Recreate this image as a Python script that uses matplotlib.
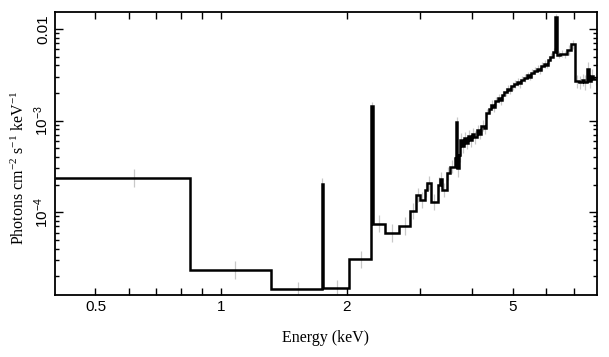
import numpy as np
import matplotlib
matplotlib.use('Agg')
import matplotlib.pyplot as plt
from matplotlib.ticker import FixedLocator, NullFormatter, LogLocator

# unfolded spectrum, bin edges in keV
edges = [0.40, 0.84, 1.316, 1.74, 1.755, 2.025, 2.29, 2.305, 2.47, 2.667,
         2.833, 2.928, 2.993, 3.076, 3.106, 3.18, 3.30, 3.342, 3.373, 3.467,
         3.53, 3.63, 3.66, 3.68, 3.71, 3.74, 3.78, 3.82, 3.86, 3.90,
         3.95, 3.99, 4.04, 4.09, 4.15, 4.20, 4.26, 4.31, 4.37, 4.43,
         4.48, 4.53, 4.60, 4.66, 4.71, 4.77, 4.84, 4.90, 4.96, 5.03,
         5.10, 5.16, 5.23, 5.31, 5.39, 5.46, 5.53, 5.61, 5.70, 5.77,
         5.84, 5.92, 6.01, 6.08, 6.15, 6.22, 6.30, 6.37, 6.50, 6.62,
         6.73, 6.87, 7.04, 7.18, 7.30, 7.40, 7.52, 7.60, 7.68, 7.78,
         8.00]

# photons cm-2 s-1 keV-1
flux = [2.35e-4, 2.35e-5, 1.45e-5, 2.05e-4, 1.5e-5, 3.05e-5, 1.44e-3, 7.5e-5, 5.9e-5, 7.1e-5,
        1.03e-4, 1.54e-4, 1.36e-4, 1.75e-4, 2.09e-4, 1.30e-4, 1.99e-4, 2.29e-4, 1.75e-4, 2.66e-4,
        3.15e-4, 3.9e-4, 9.6e-4, 3.0e-4, 4.2e-4, 6.2e-4, 5.3e-4, 6.4e-4, 5.7e-4, 6.8e-4,
        6.1e-4, 7.2e-4, 6.6e-4, 7.8e-4, 7.2e-4, 8.8e-4, 8.3e-4, 1.2e-3, 1.35e-3, 1.48e-3,
        1.40e-3, 1.62e-3, 1.75e-3, 1.68e-3, 1.90e-3, 2.05e-3, 2.20e-3, 2.15e-3, 2.40e-3, 2.50e-3,
        2.62e-3, 2.55e-3, 2.80e-3, 2.92e-3, 3.12e-3, 3.02e-3, 3.32e-3, 3.50e-3, 3.68e-3, 3.56e-3,
        3.95e-3, 4.15e-3, 4.08e-3, 4.60e-3, 5.00e-3, 5.60e-3, 1.36e-2, 5.25e-3, 5.40e-3, 5.30e-3,
        5.90e-3, 6.80e-3, 2.70e-3, 2.62e-3, 2.78e-3, 2.62e-3, 3.70e-3, 2.70e-3, 3.10e-3, 2.85e-3]

# 1-sigma errors, half width in dex
err_dex = [0.10, 0.10, 0.08, 0.06, 0.08, 0.09, 0.05, 0.09, 0.10, 0.10,
           0.09, 0.08, 0.09, 0.08, 0.08, 0.09, 0.08, 0.08, 0.08, 0.07,
           0.07, 0.07, 0.06, 0.09, 0.08, 0.07, 0.08, 0.07, 0.07, 0.06,
           0.07, 0.06, 0.07, 0.06, 0.06, 0.06, 0.06, 0.05, 0.05, 0.05,
           0.05, 0.05, 0.05, 0.05, 0.05, 0.045, 0.045, 0.045, 0.045, 0.045,
           0.045, 0.045, 0.04, 0.04, 0.04, 0.04, 0.04, 0.04, 0.04, 0.04,
           0.04, 0.04, 0.04, 0.04, 0.04, 0.04, 0.03, 0.04, 0.04, 0.04,
           0.05, 0.05, 0.07, 0.07, 0.07, 0.08, 0.07, 0.08, 0.07, 0.07]

x_major = [0.5, 1, 2, 5]
x_major_labels = ['0.5', '1', '2', '5']
x_minor = [0.6, 0.7, 0.8, 0.9, 3, 4, 6, 7]
y_major = [1e-4, 1e-3, 1e-2]
y_major_labels = [r'$\mathregular{10^{-4}}$', r'$\mathregular{10^{-3}}$', '0.01']

sans = ['Liberation Sans', 'DejaVu Sans']
serif = ['Liberation Serif', 'DejaVu Serif']

fig = plt.figure(figsize=(6.09, 3.57), dpi=100)
ax = fig.add_axes([0.0903, 0.174, 0.890, 0.792])

e = np.array(edges)
f = np.array(flux)
d = np.array(err_dex)
centers = 0.5 * (e[:-1] + e[1:])

# error bars first, light grey, then the histogram on top
ax.vlines(centers, f * 10 ** (-d), f * 10 ** d, color='#c8c8c8', lw=0.9, zorder=1)
ax.stairs(f, e, color='black', lw=1.8, baseline=None, zorder=2)

ax.set_xscale('log')
ax.set_yscale('log')
ax.set_xlim(0.40, 7.95)
ax.set_ylim(1.25e-5, 0.0153)

ax.xaxis.set_major_locator(FixedLocator(x_major))
ax.xaxis.set_minor_locator(FixedLocator(x_minor))
ax.xaxis.set_minor_formatter(NullFormatter())
ax.set_xticklabels(x_major_labels, family=sans, fontsize=11)

ax.yaxis.set_major_locator(FixedLocator(y_major))
ax.yaxis.set_minor_locator(LogLocator(base=10, subs=np.arange(2, 10)))
ax.yaxis.set_minor_formatter(NullFormatter())
ax.set_yticklabels(y_major_labels, family=sans, fontsize=11, rotation=90, va='center')

ax.tick_params(axis='x', which='both', direction='in', top=True, length=5, width=1, pad=4)
ax.tick_params(axis='y', which='major', direction='in', right=True, length=6, width=1, pad=3)
ax.tick_params(axis='y', which='minor', direction='in', right=True, length=3, width=1)

for s in ax.spines.values():
    s.set_linewidth(1.3)

ax.set_xlabel('Energy (keV)', family=serif, fontsize=11.5)
ax.set_ylabel(r'Photons cm$\mathregular{^{-2}}$ s$\mathregular{^{-1}}$ keV$\mathregular{^{-1}}$',
              family=serif, fontsize=11.5)
ax.xaxis.set_label_coords(0.5, -0.123)
ax.yaxis.set_label_coords(-0.050, 0.45)

plt.savefig('out.png', dpi=100)
plt.close()
